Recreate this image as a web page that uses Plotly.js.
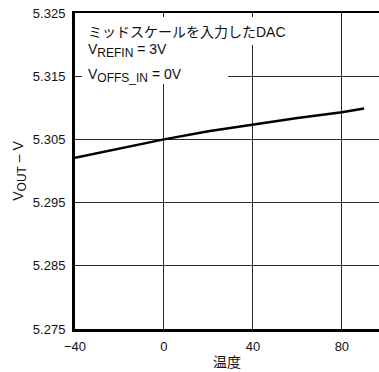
<!DOCTYPE html>
<html>
<head>
<meta charset="utf-8">
<script src="https://cdn.plot.ly/plotly-3.0.1.min.js"></script>
<style>html,body{margin:0;padding:0;background:#fff;}#chart{width:379px;height:372px;}</style>
</head>
<body>
<div id="chart"></div>
<script>
// Data
const temperature = [-40, -20, 0, 20, 40, 60, 80, 90];
const vout = [5.3021, 5.3036, 5.3050, 5.3063, 5.3074, 5.3084, 5.3093, 5.3099];
const xTicks = [-40, 0, 40, 80];
const xTickText = ['\u221240', '0', '40', '80'];
const yTicks = [5.275, 5.285, 5.295, 5.305, 5.315, 5.325];
const yTickText = ['5.275', '5.285', '5.295', '5.305', '5.315', '5.325'];
const noteTitle = 'ミッドスケールを入力したDAC';
const noteRef = 'V<sub><span style="font-size:12px">REFIN</span></sub> = 3V';
const noteOffs = 'V<sub><span style="font-size:12px">OFFS_IN</span></sub> = 0V';
const xTitle = '温度';
const yTitle = 'V<sub><span style="font-size:12px">OUT</span></sub> \u2013 V';

const FONT = '"Liberation Sans", Arial, "Noto Sans CJK JP", sans-serif';

const trace = {
  x: temperature, y: vout, type: 'scatter', mode: 'lines',
  line: {color: '#000', width: 2.5}, hoverinfo: 'skip', showlegend: false
};

const W = 379, H = 372;
const L = 75, R = 0, T = 13, B = 43;
const pw = W - L - R, ph = H - T - B;
const px = v => (v - L) / pw;
const py = v => (H - B - v) / ph;

const layout = {
  width: W, height: H,
  margin: {l: L, r: R, t: T, b: B, pad: 0},
  paper_bgcolor: '#fff', plot_bgcolor: '#fff',
  font: {family: FONT, size: 13, color: '#111'},
  xaxis: {
    range: [-40, 96.7], tickmode: 'array', tickvals: xTicks, ticktext: xTickText,
    showline: true, linecolor: '#000', linewidth: 3,
    showgrid: true, gridcolor: '#2a2a2a', gridwidth: 1, zeroline: false,
    ticks: '', ticklabelstandoff: 3, tickfont: {size: 13, family: FONT},
    title: {text: xTitle, font: {size: 14, family: FONT}, standoff: 5}
  },
  xaxis2: {
    overlaying: 'x', side: 'top', range: [-40, 96.7], showline: true,
    linecolor: '#000', linewidth: 2.5, showgrid: false, zeroline: false,
    showticklabels: false, ticks: ''
  },
  yaxis: {
    range: [5.275, 5.325], tickmode: 'array', tickvals: yTicks, ticktext: yTickText,
    showline: true, linecolor: '#000', linewidth: 3,
    showgrid: true, gridcolor: '#2a2a2a', gridwidth: 1, zeroline: false,
    ticks: '', ticklabelstandoff: 4, tickfont: {size: 13, family: FONT},
    title: {text: yTitle, font: {size: 14, family: FONT}, standoff: 6}
  },
  shapes: [
    {type: 'rect', xref: 'paper', yref: 'paper', layer: 'above',
     x0: px(82), x1: px(305), y0: py(45), y1: py(17),
     fillcolor: '#fff', line: {width: 0}},
    {type: 'rect', xref: 'paper', yref: 'paper', layer: 'above',
     x0: px(82), x1: px(228), y0: py(84), y1: py(44),
     fillcolor: '#fff', line: {width: 0}}
  ],
  annotations: [
    {text: noteTitle, xref: 'paper', yref: 'paper', x: px(86), y: py(32),
     xanchor: 'left', yanchor: 'middle', showarrow: false,
     font: {size: 14, family: FONT, color: '#111'}},
    {text: noteRef, xref: 'paper', yref: 'paper', x: px(86), y: py(51),
     xanchor: 'left', yanchor: 'middle', showarrow: false,
     font: {size: 14, family: FONT, color: '#111'}},
    {text: noteOffs, xref: 'paper', yref: 'paper', x: px(86), y: py(76),
     xanchor: 'left', yanchor: 'middle', showarrow: false,
     font: {size: 14, family: FONT, color: '#111'}}
  ]
};

const topTrace = {x: [], y: [], xaxis: 'x2', yaxis: 'y', type: 'scatter', showlegend: false};

Plotly.newPlot('chart', [trace, topTrace], layout, {staticPlot: true, displayModeBar: false});
</script>
</body>
</html>
